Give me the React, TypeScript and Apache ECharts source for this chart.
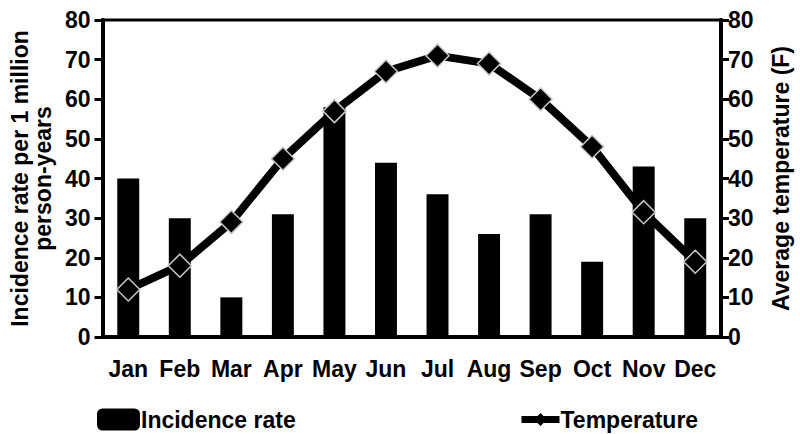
import React, { useEffect, useRef } from "react";
import * as echarts from "echarts";

const months = ["Jan", "Feb", "Mar", "Apr", "May", "Jun", "Jul", "Aug", "Sep", "Oct", "Nov", "Dec"];
const incidenceRate = [40, 30, 10, 31, 58, 44, 36, 26, 31, 19, 43, 30];
const temperature = [12, 18, 29, 45, 57, 67, 71, 69, 60, 48, 31.5, 19];
const leftTicks = [0, 80, 10];
const rightTicks = [0, 80, 10];

const FONT = "Liberation Sans, Arial, sans-serif";
const FS = 23;

export default function App() {
  const ref = useRef<HTMLDivElement>(null);
  useEffect(() => {
    if (!ref.current) return;
    const chart = echarts.init(ref.current, null, { renderer: "svg" });
    const axisLabel = { color: "#000", fontSize: FS, fontWeight: "bold", fontFamily: FONT };
    chart.setOption({
      animation: false,
      grid: {
        left: 100,
        right: 64,
        top: 20,
        bottom: 97,
        show: true,
        borderColor: "#000",
        borderWidth: 3,
        backgroundColor: "transparent",
      },
      legend: [
        {
          data: ["Incidence rate"],
          left: 92,
          top: 403,
          itemWidth: 43,
          itemHeight: 22,
          itemGap: 4,
          textStyle: { color: "#000", fontSize: FS, fontWeight: "bold", fontFamily: FONT, padding: [0, 0, 0, -4] },
        },
        {
          data: ["Temperature"],
          left: 513,
          top: 403,
          itemWidth: 38,
          itemHeight: 16,
          lineStyle: { width: 7, color: "#000" },
          itemStyle: { borderWidth: 0 },
          textStyle: { color: "#000", fontSize: FS, fontWeight: "bold", fontFamily: FONT, padding: [0, 0, 0, -4] },
        },
      ],
      xAxis: {
        type: "category",
        data: months,
        axisLine: { lineStyle: { color: "#000", width: 4 } },
        axisTick: { show: false },
        axisLabel: { ...axisLabel, margin: 20, interval: 0 },
      },
      yAxis: [
        {
          type: "value",
          min: leftTicks[0],
          max: leftTicks[1],
          interval: leftTicks[2],
          splitLine: { show: false },
          axisLine: { show: true, lineStyle: { color: "#000", width: 4 } },
          axisTick: { show: true, length: 8, lineStyle: { color: "#000", width: 3 } },
          axisLabel: { ...axisLabel, margin: 12 },
          name: "Incidence rate per 1 million\nperson-years",
          nameLocation: "middle",
          nameGap: 45,
          nameRotate: 90,
          nameTextStyle: { color: "#000", fontSize: FS, fontWeight: "bold", fontFamily: FONT, lineHeight: 23 },
        },
        {
          type: "value",
          position: "right",
          min: rightTicks[0],
          max: rightTicks[1],
          interval: rightTicks[2],
          splitLine: { show: false },
          axisLine: { show: true, lineStyle: { color: "#000", width: 4 } },
          axisTick: { show: true, length: 8, lineStyle: { color: "#000", width: 3 } },
          axisLabel: { ...axisLabel, margin: 7 },
          name: "Average temperature (F)",
          nameLocation: "middle",
          nameGap: 48,
          nameRotate: 90,
          nameTextStyle: { color: "#000", fontSize: FS, fontWeight: "bold", fontFamily: FONT },
        },
      ],
      series: [
        {
          name: "Incidence rate",
          type: "bar",
          data: incidenceRate,
          barWidth: "42.6%",
          itemStyle: { color: "#000" },
        },
        {
          name: "Temperature",
          type: "line",
          yAxisIndex: 1,
          data: temperature,
          symbol: "diamond",
          symbolSize: 23,
          lineStyle: { color: "#000", width: 8 },
          itemStyle: { color: "#000", borderColor: "#c8c8c8", borderWidth: 1.5 },
        },
      ],
    });
    return () => chart.dispose();
  }, []);
  return <div ref={ref} style={{ width: 800, height: 434, position: "absolute", left: 0, top: 0 }} />;
}
